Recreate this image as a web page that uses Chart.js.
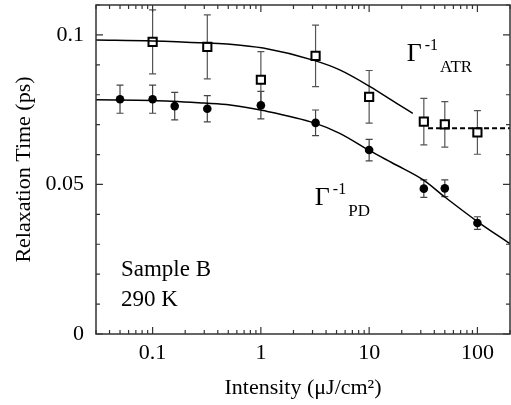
<!DOCTYPE html>
<html>
<head>
<meta charset="utf-8">
<script src="https://cdn.jsdelivr.net/npm/chart.js@4/dist/chart.umd.min.js"></script>
<style>
  html, body { margin: 0; padding: 0; background: #fff; }
  #wrap { width: 511px; height: 405px; }
</style>
</head>
<body>
<div id="wrap"><canvas id="c" width="511" height="405"></canvas></div>
<script>
// ---- data ----
const pdIntensity = [0.05, 0.1, 0.16, 0.32, 1, 3.2, 10, 32, 50, 100];
const pdTime      = [0.0785, 0.0785, 0.0762, 0.0753, 0.0765, 0.0706, 0.0615, 0.0486, 0.0487, 0.0371];
const pdErr       = [0.0047, 0.0047, 0.0046, 0.0044, 0.0046, 0.0043, 0.0036, 0.0029, 0.0028, 0.0021];

const atrIntensity = [0.1, 0.32, 1, 3.2, 10, 32, 50, 100];
const atrTime      = [0.0977, 0.0960, 0.0850, 0.0930, 0.0793, 0.0710, 0.0701, 0.0674];
const atrErr       = [0.0107, 0.0107, 0.0094, 0.0103, 0.0088, 0.0078, 0.0076, 0.0073];

const pdFitX = [0.03, 0.1, 0.3, 0.52, 1.05, 3.15, 5.35, 10.1, 17.8, 31.6, 50, 100, 200];
const pdFitY = [0.0783, 0.0781, 0.0772, 0.0766, 0.0747, 0.0705, 0.0671, 0.0613, 0.0565, 0.0515, 0.0458, 0.0376, 0.0302];

const atrFitX = [0.03, 0.1, 0.32, 0.52, 1.05, 3.15, 5.35, 10.1, 17.8, 25.3];
const atrFitY = [0.0983, 0.0980, 0.0973, 0.0969, 0.0956, 0.0914, 0.0883, 0.0828, 0.0772, 0.0738];

const atrLevelX = [35, 200];
const atrLevelY = [0.0688, 0.0688];

const xTickValues = [0.1, 1, 10, 100];
const yTickValues = [0, 0.05, 0.1];

const FONT = "'Liberation Serif', 'Times New Roman', serif";

const zip = (xs, ys) => xs.map((x, i) => ({ x: x, y: ys[i] }));

const errorBars = {
  id: 'errorBars',
  beforeDatasetsDraw(chart) {
    const { ctx, scales: { x, y } } = chart;
    const sets = [
      { xs: pdIntensity, ys: pdTime, es: pdErr, color: '#444' },
      { xs: atrIntensity, ys: atrTime, es: atrErr, color: '#555' }
    ];
    ctx.save();
    ctx.lineWidth = 1.2;
    sets.forEach(s => {
      ctx.strokeStyle = s.color;
      s.xs.forEach((xv, i) => {
        const px = x.getPixelForValue(xv);
        const top = y.getPixelForValue(s.ys[i] + s.es[i]);
        const bot = y.getPixelForValue(s.ys[i] - s.es[i]);
        ctx.beginPath();
        ctx.moveTo(px, top); ctx.lineTo(px, bot);
        ctx.moveTo(px - 3.5, top); ctx.lineTo(px + 3.5, top);
        ctx.moveTo(px - 3.5, bot); ctx.lineTo(px + 3.5, bot);
        ctx.stroke();
      });
    });
    ctx.restore();
  }
};

const frameAndText = {
  id: 'frameAndText',
  afterDraw(chart) {
    const { ctx, chartArea: a, scales: { x, y } } = chart;
    ctx.save();
    // ticks (inward) on all four sides
    ctx.strokeStyle = '#333';
    ctx.lineWidth = 1.2;
    ctx.beginPath();
    [0.01, 0.1, 1, 10, 100].forEach(d => {
      for (let k = 1; k <= 9; k++) {
        const v = k * d;
        if (v < 0.03 || v > 200) continue;
        const px = x.getPixelForValue(v);
        const len = k === 1 ? 7 : 4;
        ctx.moveTo(px, a.bottom); ctx.lineTo(px, a.bottom - len);
        ctx.moveTo(px, a.top); ctx.lineTo(px, a.top + len);
      }
    });
    for (let i = 0; i <= 11; i++) {
      const v = i * 0.01;
      const py = y.getPixelForValue(v);
      const len = (i % 5 === 0) ? 7 : 4;
      ctx.moveTo(a.left, py); ctx.lineTo(a.left + len, py);
      ctx.moveTo(a.right, py); ctx.lineTo(a.right - len, py);
    }
    ctx.stroke();
    // frame
    ctx.lineWidth = 1.5;
    ctx.strokeStyle = '#333';
    ctx.strokeRect(a.left, a.top, a.right - a.left, a.bottom - a.top);

    // annotations
    ctx.fillStyle = '#000';
    ctx.textBaseline = 'alphabetic';
    ctx.textAlign = 'left';
    const gamma = (xv, yv, sub) => {
      const gx = x.getPixelForValue(xv), gy = y.getPixelForValue(yv);
      ctx.font = '26px ' + FONT;
      ctx.fillText('Γ', gx, gy);
      const gw = ctx.measureText('Γ').width;
      ctx.font = '16px ' + FONT;
      ctx.fillText('-1', gx + gw + 3, gy - 11);
      const sw = ctx.measureText('-1').width;
      ctx.font = '17px ' + FONT;
      ctx.fillText(sub, gx + gw + sw + 5, gy + 11);
    };
    gamma(22.2, 0.0913, 'ATR');
    gamma(3.15, 0.0431, 'PD');
    ctx.font = '23px ' + FONT;
    const sx = x.getPixelForValue(0.051);
    ctx.fillText('Sample B', sx, y.getPixelForValue(0.0194));
    ctx.fillText('290 K', sx, y.getPixelForValue(0.0094));
    ctx.restore();
  }
};

const noPad = s => { s.paddingTop = 0; s.paddingBottom = 0; s.paddingLeft = 0; s.paddingRight = 0; };

new Chart(document.getElementById('c'), {
  type: 'scatter',
  data: {
    datasets: [
      { data: zip(pdFitX, pdFitY), showLine: true, borderColor: '#000', borderWidth: 1.5,
        pointRadius: 0, cubicInterpolationMode: 'monotone', fill: false },
      { data: zip(atrFitX, atrFitY), showLine: true, borderColor: '#000', borderWidth: 1.5,
        pointRadius: 0, cubicInterpolationMode: 'monotone', fill: false },
      { data: zip(atrLevelX, atrLevelY), showLine: true, borderColor: '#000', borderWidth: 2,
        borderDash: [5, 3], pointRadius: 0, fill: false },
      { data: zip(pdIntensity, pdTime), pointStyle: 'circle', pointRadius: 4.3,
        backgroundColor: '#000', borderColor: '#000', borderWidth: 0 },
      { data: zip(atrIntensity, atrTime), pointStyle: 'rect', pointRadius: 5.8,
        backgroundColor: '#fff', borderColor: '#000', borderWidth: 2 }
    ]
  },
  options: {
    responsive: false,
    animation: false,
    events: [],
    layout: { autoPadding: false, padding: { top: 5, right: 1, left: 0, bottom: 0 } },
    plugins: { legend: { display: false }, tooltip: { enabled: false } },
    scales: {
      x: {
        type: 'logarithmic', min: 0.03, max: 200,
        grid: { display: false, drawTicks: false },
        border: { display: false },
        afterBuildTicks: s => { s.ticks = xTickValues.map(v => ({ value: v })); },
        afterFit: s => { s.height = 71; noPad(s); },
        ticks: { color: '#000', padding: 6, maxRotation: 0, autoSkip: false,
                 font: { family: FONT, size: 22 }, callback: v => String(v) },
        title: { display: true, text: 'Intensity (μJ/cm²)', color: '#000',
                 font: { family: FONT, size: 22 }, padding: { bottom: 4, top: 0 } }
      },
      y: {
        type: 'linear', min: 0, max: 0.11,
        grid: { display: false, drawTicks: false },
        border: { display: false },
        afterBuildTicks: s => { s.ticks = yTickValues.map(v => ({ value: v })); },
        afterFit: s => { s.width = 96; noPad(s); },
        ticks: { color: '#000', padding: 12, autoSkip: false,
                 font: { family: FONT, size: 22 }, callback: v => String(v) },
        title: { display: true, text: 'Relaxation Time (ps)', color: '#000',
                 font: { family: FONT, size: 22 }, padding: { top: 11, bottom: 0 } }
      }
    }
  },
  plugins: [errorBars, frameAndText]
});
</script>
</body>
</html>
